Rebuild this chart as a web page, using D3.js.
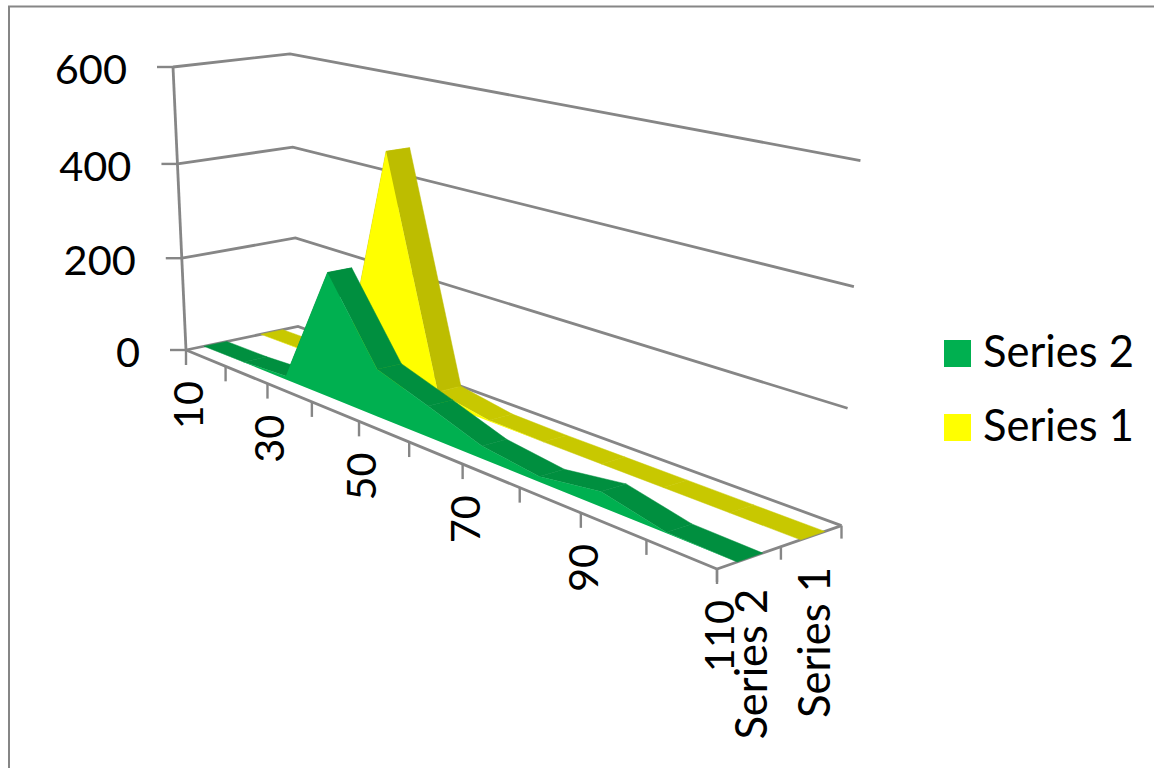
<!DOCTYPE html>
<html>
<head>
<meta charset="utf-8">
<style>
  html, body { margin: 0; padding: 0; background: #fff; }
  svg { display: block; }
  text { font-family: Lato, "Open Sans", sans-serif; fill: #000; }
</style>
<script src="https://cdn.jsdelivr.net/npm/d3@7"></script>
</head>
<body>
<svg id="chart" width="1154" height="768"></svg>
<script>
// Category positions and the two series, from back to front of the floor.
const categories = [10, 20, 30, 40, 50, 60, 70, 80, 90, 100, 110];
const series1Values = [0, 1, 2, 470, 20, 2, 0, 0, 0, 0, 0];
const series2Values = [0, 1, 7, 252, 94, 60, 24, 10, 27, 2, 0];
const valueTicks = [0, 200, 400, 600];
const categoryLabels = [10, 30, 50, 70, 90, 110];
const seriesNames = ["Series 1", "Series 2"];
const legendNames = ["Series 2", "Series 1"];

const palette = {
  "Series 1": { face: "#FFFF00", steep: "#BDBD00", flat: "#C8C800" },
  "Series 2": { face: "#00B050", steep: "#008F3F", flat: "#008F3F" }
};
const depthBands = { "Series 1": [0.66, 0.86], "Series 2": [0.155, 0.355] };
const valuesByName = { "Series 1": series1Values, "Series 2": series2Values };

const svg = d3.select("#chart");
const axisColor = "#868686";
const numberSize = 41.5;
const nameSize = 43.5;

// Unit-cube scales feeding the perspective projection.
const u = d3.scaleLinear().domain([10, 110]).range([0, 1]);
const z = d3.scaleLinear().domain([0, 600]).range([0, 1]);
const depth = d3.scaleLinear().domain([0, 1]).range([0, 1]);

// Homogeneous projection of the chart box onto the page.
const O = [186, 350], U = [717, 569], V = [298, 326.5], Z = [173, 67];
const wu = 0.725, wv = 1.04, wz = 0.96;
function project(cat, d, val) {
  const a = u(cat), b = depth(d), c = z(val);
  const w0 = 1 - a - b - c;
  const den = w0 + wu * a + wv * b + wz * c;
  return [
    (O[0] * w0 + wu * U[0] * a + wv * V[0] * b + wz * Z[0] * c) / den,
    (O[1] * w0 + wu * U[1] * a + wv * V[1] * b + wz * Z[1] * c) / den
  ];
}

const path = d3.line();
const closed = pts => path(pts) + "Z";

// Outer chart frame, running off the right and bottom of the page.
svg.append("rect")
  .attr("x", 9).attr("y", 6.5).attr("width", 1300).attr("height", 900)
  .attr("fill", "#fff").attr("stroke", axisColor).attr("stroke-width", 2);

// Wall gridlines: along the side wall, then along the back wall.
const [xMin, xMax] = u.domain();
const grid = svg.append("g").attr("fill", "none").attr("stroke", axisColor).attr("stroke-width", 2.8);
valueTicks.forEach(t => {
  grid.append("path").attr("d", path([
    project(xMin, 0, t), project(xMin, 1, t), project(xMax, 1, t)
  ]));
});

// Floor edges and the vertical value axis.
grid.append("path").attr("d", path([project(xMin, 0, 0), project(xMax, 0, 0), project(xMax, 1, 0)]));
grid.append("path").attr("d", path([project(xMin, 0, 0), project(xMin, 0, 600)]));

// Value axis ticks and labels.
const valueAxis = svg.append("g");
valueTicks.forEach(t => {
  const [px, py] = project(xMin, 0, t);
  valueAxis.append("line")
    .attr("x1", px - 16).attr("x2", px).attr("y1", py).attr("y2", py)
    .attr("stroke", axisColor).attr("stroke-width", 2.4);
  valueAxis.append("text")
    .attr("x", px - 46).attr("y", py + 17)
    .attr("text-anchor", "end").attr("font-size", numberSize).text(t);
});

// Category axis ticks hang from the front floor edge.
const catAxis = svg.append("g");
categories.forEach(c => {
  const [px, py] = project(c, 0, 0);
  catAxis.append("line")
    .attr("x1", px).attr("x2", px).attr("y1", py).attr("y2", py + 15)
    .attr("stroke", axisColor).attr("stroke-width", 2.4);
});
categoryLabels.forEach(c => {
  const [px, py] = project(c, 0, 0);
  catAxis.append("text")
    .attr("transform", `translate(${px + 17},${py + 31}) rotate(-90)`)
    .attr("text-anchor", "end").attr("font-size", numberSize).text(c);
});

// Depth axis ticks and series labels on the right floor edge.
const depthAxis = svg.append("g");
[0, 0.5, 1].forEach(d => {
  const [px, py] = project(xMax, d, 0);
  depthAxis.append("line")
    .attr("x1", px).attr("x2", px).attr("y1", py).attr("y2", py + 13)
    .attr("stroke", axisColor).attr("stroke-width", 2.4);
});
seriesNames.forEach(name => {
  const mid = name === "Series 2" ? 0.25 : 0.75;
  const [px, py] = project(xMax, mid, 0);
  depthAxis.append("text")
    .attr("transform", `translate(${px + 18},${py + 31}) rotate(-90)`)
    .attr("text-anchor", "end").attr("font-size", nameSize).text(name);
});

// Areas: far series first, each with its top surface and then its front face.
seriesNames.forEach(name => {
  const vals = valuesByName[name];
  const [d0, d1] = depthBands[name];
  const colors = palette[name];
  const g = svg.append("g");
  d3.pairs(d3.zip(categories, vals)).forEach(([[c0, a], [c1, b]]) => {
    const pts = [project(c0, d0, a), project(c0, d1, a), project(c1, d1, b), project(c1, d0, b)];
    const shade = a - b > 100 ? colors.steep : colors.flat;
    g.append("path").attr("d", closed(pts)).attr("fill", shade).attr("stroke", shade).attr("stroke-width", 0.5);
  });
  const front = categories.map((c, i) => project(c, d0, vals[i]))
    .concat(categories.slice().reverse().map(c => project(c, d0, 0)));
  g.append("path").attr("d", closed(front)).attr("fill", colors.face);
});

// Legend.
const legend = svg.append("g");
const legendY = d3.scalePoint().domain(legendNames).range([340, 414]);
legendNames.forEach(name => {
  legend.append("rect")
    .attr("x", 944).attr("y", legendY(name)).attr("width", 27).attr("height", 27)
    .attr("fill", palette[name].face);
  legend.append("text")
    .attr("x", 983).attr("y", legendY(name) + 27)
    .attr("font-size", nameSize).text(name);
});
</script>
</body>
</html>
